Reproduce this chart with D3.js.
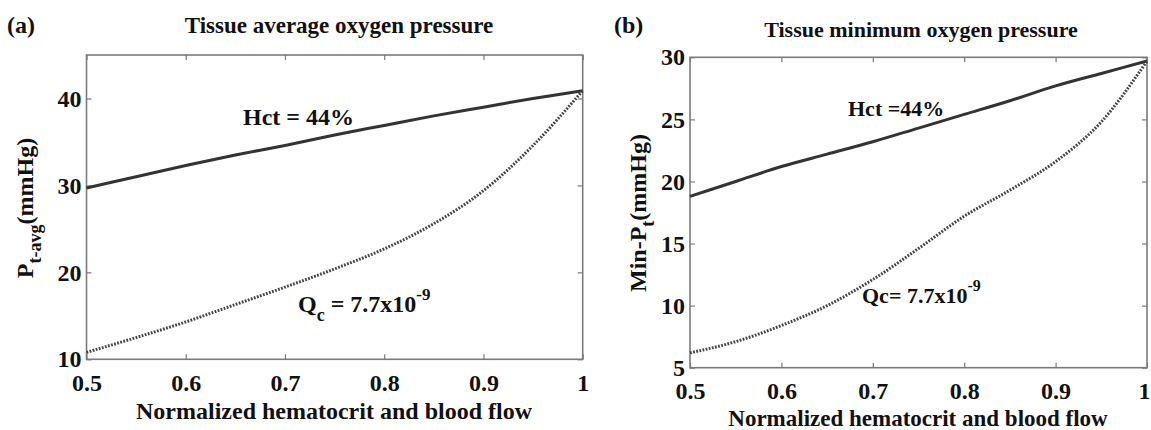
<!DOCTYPE html>
<html>
<head>
<meta charset="utf-8">
<script src="https://cdn.jsdelivr.net/npm/d3@7"></script>
<style>
  html, body { margin: 0; padding: 0; background: #fff; }
  svg { display: block; }
  svg text { font-family: "Liberation Serif", "Tinos", "Times New Roman", Times, "DejaVu Serif", serif !important; font-weight: bold; fill: #111; }
</style>
</head>
<body>
<svg id="chart" width="1151" height="430"></svg>
<script>
// ---------------- data ----------------
const xValues = [0.5, 0.55, 0.6, 0.65, 0.7, 0.75, 0.8, 0.85, 0.9, 0.95, 1.0];
// (a) tissue average oxygen pressure (mmHg)
const hctAvg = [29.7, 31.0, 32.3, 33.5, 34.6, 35.8, 36.9, 38.0, 39.0, 40.0, 40.9];
const qcAvg  = [10.8, 12.5, 14.3, 16.3, 18.3, 20.4, 22.7, 25.6, 29.4, 34.6, 40.9];
// (b) tissue minimum oxygen pressure (mmHg)
const hctMin = [18.8, 20.0, 21.2, 22.2, 23.2, 24.3, 25.4, 26.5, 27.7, 28.7, 29.7];
const qcMin  = [6.2, 7.1, 8.4, 10.0, 12.1, 14.6, 17.2, 19.3, 21.6, 24.8, 29.7];

const xTicks = [0.5, 0.6, 0.7, 0.8, 0.9, 1];
const xTickLabels = ["0.5", "0.6", "0.7", "0.8", "0.9", "1"];
const yTicksA = [10, 20, 30, 40];
const yTicksB = [5, 10, 15, 20, 25, 30];

const FONT = "'Liberation Serif', Tinos, 'Times New Roman', Times, 'DejaVu Serif', serif";
const svg = d3.select("#chart");

function panel(opts) {
  const x = d3.scaleLinear().domain([0.5, 1]).range([opts.left, opts.right]);
  const y = d3.scaleLinear().domain(opts.yDomain).range([opts.bottom, opts.top]);
  const g = svg.append("g");
  const axisColor = "#7a7a7a";
  const fmtX = (d) => xTickLabels[xTicks.indexOf(d)];

  const gx = g.append("g").attr("transform", `translate(0,${opts.bottom})`)
    .call(d3.axisBottom(x).tickValues(xTicks).tickFormat(fmtX).tickSizeInner(-5).tickSizeOuter(0).tickPadding(opts.xPad));
  const gxTop = g.append("g").attr("transform", `translate(0,${opts.top})`)
    .call(d3.axisTop(x).tickValues(xTicks).tickFormat("").tickSizeInner(-5).tickSizeOuter(0));
  const gy = g.append("g").attr("transform", `translate(${opts.left},0)`)
    .call(d3.axisLeft(y).tickValues(opts.yTicks).tickSizeInner(-5).tickSizeOuter(0).tickPadding(5));
  const gyR = g.append("g").attr("transform", `translate(${opts.right},0)`)
    .call(d3.axisRight(y).tickValues(opts.yTicks).tickFormat("").tickSizeInner(-5).tickSizeOuter(0));
  [gx, gxTop, gy, gyR].forEach(a => {
    a.attr("font-family", FONT);
    a.select(".domain").remove();
    a.selectAll(".tick line").attr("stroke", axisColor).attr("stroke-width", 1.2);
    a.selectAll("text").attr("font-family", FONT).attr("font-weight", "bold")
      .attr("font-size", 24).attr("fill", "#111");
  });
  if (opts.lastDx) {
    gx.selectAll(".tick text").filter(d => d === 1).attr("dx", opts.lastDx);
  }

  g.append("rect")
    .attr("x", opts.left).attr("y", opts.top)
    .attr("width", opts.right - opts.left).attr("height", opts.bottom - opts.top)
    .attr("fill", "none").attr("stroke", axisColor).attr("stroke-width", 1.6);

  const line = d3.line().x((d, i) => x(xValues[i])).y(d => y(d)).curve(d3.curveMonotoneX);

  g.append("path").datum(opts.solid).attr("d", line)
    .attr("fill", "none").attr("stroke", "#333").attr("stroke-width", 3);
  g.append("path").datum(opts.dotted).attr("d", line)
    .attr("fill", "none").attr("stroke", "#444").attr("stroke-width", 3)
    .attr("stroke-dasharray", "1.8,1.4");
  return { x, y, g };
}

function label(x, y, size, str, anchor) {
  return svg.append("text").attr("x", x).attr("y", y).attr("font-size", size)
    .attr("font-family", FONT).attr("text-anchor", anchor || "start").text(str);
}

// ---------- panel (a) ----------
panel({ left: 86.5, right: 582.7, top: 55, bottom: 359.3, yDomain: [10, 45],
  yTicks: yTicksA, solid: hctAvg, dotted: qcAvg, xPad: 15 });

label(7, 33, 24, "(a)");
label(339, 33, 23, "Tissue average oxygen pressure", "middle");
label(334, 419, 24, "Normalized hematocrit and blood flow", "middle");
{
  const t = svg.append("text").attr("transform", "translate(33,208) rotate(-90)")
    .attr("text-anchor", "middle").attr("font-size", 24).attr("font-family", FONT);
  t.append("tspan").text("P");
  t.append("tspan").attr("dy", 8).attr("font-size", 18).text("t-avg");
  t.append("tspan").attr("dy", -8).text("(mmHg)");
}
label(243, 125, 24, "Hct = 44%");
{
  const t = label(298, 312, 24, "");
  t.append("tspan").text("Q");
  t.append("tspan").attr("dy", 9).attr("font-size", 18).text("c");
  t.append("tspan").attr("dy", -9).text(" = 7.7x10");
  t.append("tspan").attr("dy", -12).attr("font-size", 17).text("-9");
}

// ---------- panel (b) ----------
panel({ left: 690, right: 1147, top: 57.3, bottom: 367.7, yDomain: [5, 30],
  yTicks: yTicksB, solid: hctMin, dotted: qcMin, lastDx: -3, xPad: 14 });

label(614, 33, 24, "(b)");
label(921, 37, 22, "Tissue minimum oxygen pressure", "middle");
label(918, 425.5, 23, "Normalized hematocrit and blood flow", "middle");
{
  const t = svg.append("text").attr("transform", "translate(646,213) rotate(-90)")
    .attr("text-anchor", "middle").attr("font-size", 24).attr("font-family", FONT);
  t.append("tspan").text("Min-P");
  t.append("tspan").attr("dy", 8).attr("font-size", 18).text("t");
  t.append("tspan").attr("dy", -8).text("(mmHg)");
}
label(848, 116, 22, "Hct =44%");
{
  const t = label(862, 303, 22, "");
  t.append("tspan").text("Qc= 7.7x10");
  t.append("tspan").attr("dy", -12).attr("font-size", 16).text("-9");
}
</script>
</body>
</html>
